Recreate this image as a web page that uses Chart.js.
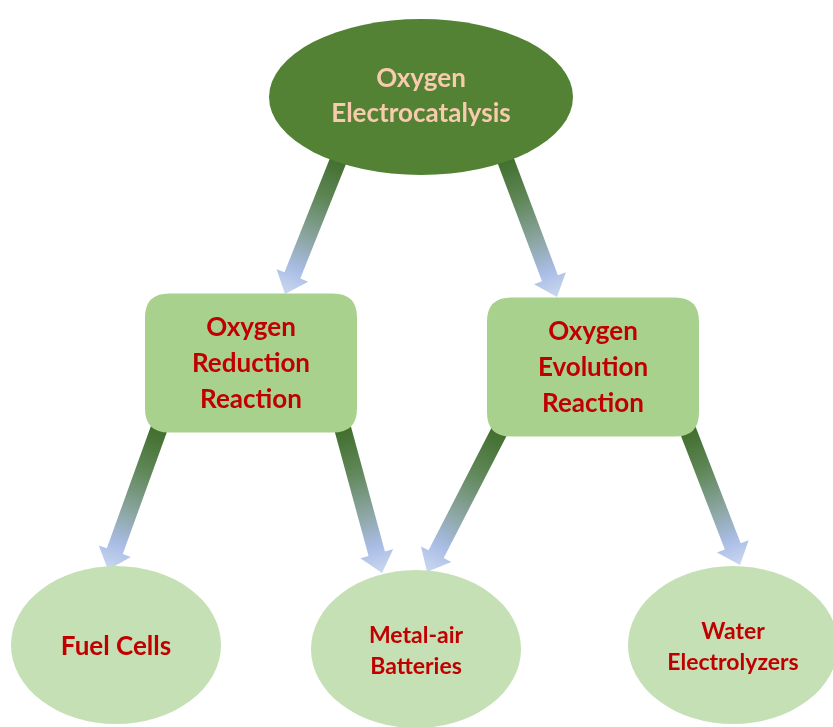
<!DOCTYPE html>
<html>
<head>
<meta charset="utf-8">
<script src="https://cdn.jsdelivr.net/npm/chart.js@4.4.1/dist/chart.umd.min.js"></script>
<style>
    body { margin: 0; background: #ffffff; }
    #chart { display: block; }
</style>
</head>
<body>
<canvas id="chart" width="833" height="727"></canvas>
<script>
// diagram nodes
var nodeLabels = [
    ["Oxygen", "Electrocatalysis"],
    ["Oxygen", "Reduction", "Reaction"],
    ["Oxygen", "Evolution", "Reaction"],
    ["Fuel Cells"],
    ["Metal-air", "Batteries"],
    ["Water", "Electrolyzers"]
];
var nodeX = [421, 251, 593, 116, 416, 733];
var nodeY = [97, 363, 367, 645, 649, 645];
var nodeKind = ["root", "box", "box", "leaf1", "leaf", "leaf"];

// arrows between nodes
var edgeFrom = [0, 0, 1, 1, 2, 2];
var edgeTo = [1, 2, 3, 4, 4, 5];
var edgeStartX = [340, 504, 160, 342, 501, 687];
var edgeStartY = [156, 156, 426, 426, 428, 428];
var edgeTipX = [285, 557, 108, 382, 427, 740];
var edgeTipY = [294, 297, 570, 573, 572, 565];

var FONT = "Lato, 'Open Sans', sans-serif";

var styles = {
    root: { fill: "#548235", text: "#F8CBAD", rx: 152, ry: 78, size: 26, lh: 35, dy: -1 },
    box: { fill: "#A9D18E", text: "#C00000", w: 212, h: 139, r: 24, size: 26, lh: 36, dy: 1 },
    leaf: { fill: "#C5E0B4", text: "#C00000", rx: 105, ry: 79, size: 23, lh: 31, dy: 2 },
    leaf1: { fill: "#C5E0B4", text: "#C00000", rx: 105, ry: 79, size: 26, lh: 31, dy: 2 }
};

function roundRect(ctx, x, y, w, h, r) {
    ctx.beginPath();
    ctx.moveTo(x + r, y);
    ctx.lineTo(x + w - r, y);
    ctx.quadraticCurveTo(x + w, y, x + w, y + r);
    ctx.lineTo(x + w, y + h - r);
    ctx.quadraticCurveTo(x + w, y + h, x + w - r, y + h);
    ctx.lineTo(x + r, y + h);
    ctx.quadraticCurveTo(x, y + h, x, y + h - r);
    ctx.lineTo(x, y + r);
    ctx.quadraticCurveTo(x, y, x + r, y);
    ctx.closePath();
}

function drawArrow(ctx, x1, y1, x2, y2) {
    var dx = x2 - x1, dy = y2 - y1;
    var len = Math.sqrt(dx * dx + dy * dy);
    var ux = dx / len, uy = dy / len;
    var px = -uy, py = ux;
    var shaft = 8.5, head = 17, headLen = 20;
    var bx = x2 - ux * headLen, by = y2 - uy * headLen;

    var grad = ctx.createLinearGradient(x1, y1, x2, y2);
    grad.addColorStop(0, "#3f6c2a");
    grad.addColorStop(0.3, "#5e8656");
    grad.addColorStop(0.6, "#8ca6a3");
    grad.addColorStop(0.82, "#a9bde5");
    grad.addColorStop(1, "#cad8f0");

    ctx.beginPath();
    ctx.moveTo(x1 + px * shaft, y1 + py * shaft);
    ctx.lineTo(bx + px * shaft, by + py * shaft);
    ctx.lineTo(bx + px * head, by + py * head);
    ctx.lineTo(x2, y2);
    ctx.lineTo(bx - px * head, by - py * head);
    ctx.lineTo(bx - px * shaft, by - py * shaft);
    ctx.lineTo(x1 - px * shaft, y1 - py * shaft);
    ctx.closePath();
    ctx.fillStyle = grad;
    ctx.fill();
}

var diagramPlugin = {
    id: "diagram",
    afterDatasetsDraw: function (chart) {
        var ctx = chart.ctx;
        var xs = chart.scales.x, ys = chart.scales.y;
        ctx.save();

        for (var e = 0; e < edgeFrom.length; e++) {
            drawArrow(ctx,
                xs.getPixelForValue(edgeStartX[e]), ys.getPixelForValue(edgeStartY[e]),
                xs.getPixelForValue(edgeTipX[e]), ys.getPixelForValue(edgeTipY[e]));
        }

        var meta = chart.getDatasetMeta(0);
        meta.data.forEach(function (pt, i) {
            var s = styles[nodeKind[i]];
            var cx = pt.x, cy = pt.y;
            ctx.fillStyle = s.fill;
            if (nodeKind[i] == "box") {
                roundRect(ctx, cx - s.w / 2, cy - s.h / 2, s.w, s.h, s.r);
            } else {
                ctx.beginPath();
                ctx.ellipse(cx, cy, s.rx, s.ry, 0, 0, Math.PI * 2);
            }
            ctx.fill();

            var lines = nodeLabels[i];
            ctx.fillStyle = s.text;
            ctx.font = "bold " + s.size + "px " + FONT;
            ctx.textAlign = "center";
            ctx.textBaseline = "middle";
            var top = cy + s.dy - (lines.length - 1) * s.lh / 2;
            for (var l = 0; l < lines.length; l++) {
                ctx.fillText(lines[l], cx, top + l * s.lh);
            }
        });
        ctx.restore();
    }
};

var points = [];
for (var i = 0; i < nodeLabels.length; i++) {
    points.push({ x: nodeX[i], y: nodeY[i] });
}

new Chart(document.getElementById("chart"), {
    type: "scatter",
    data: {
        datasets: [{
            label: "nodes",
            data: points,
            pointRadius: 0,
            pointHoverRadius: 0
        }]
    },
    options: {
        responsive: false,
        animation: false,
        events: [],
        layout: { padding: 0 },
        plugins: {
            legend: { display: false },
            tooltip: { enabled: false }
        },
        scales: {
            x: { type: "linear", min: 0, max: 833, display: false },
            y: { type: "linear", min: 0, max: 727, reverse: true, display: false }
        }
    },
    plugins: [diagramPlugin]
});
</script>
</body>
</html>
